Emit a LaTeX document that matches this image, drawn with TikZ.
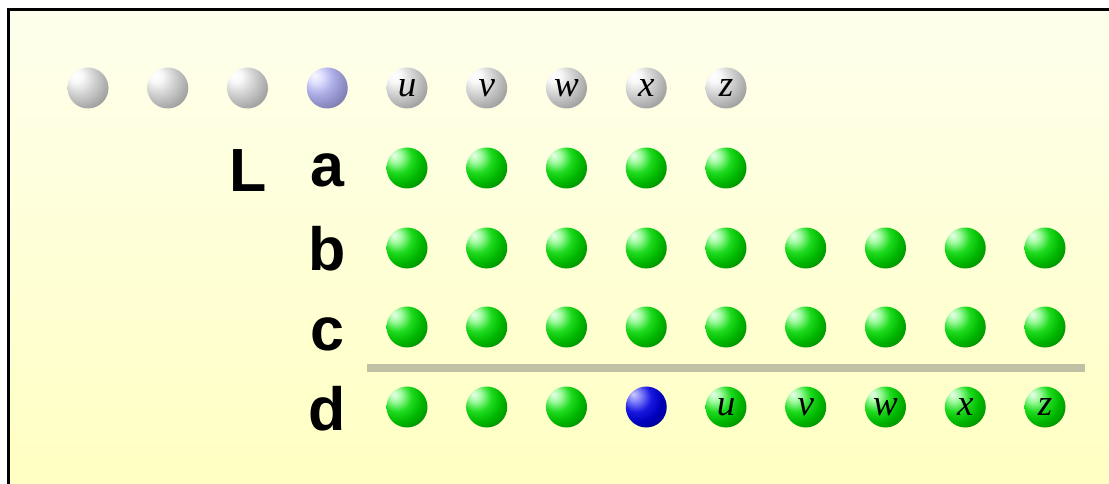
\documentclass[tikz,border=0pt]{standalone}
\usepackage{fontspec}
\setmainfont{Liberation Serif}
\newfontfamily\labelfont{Liberation Sans}
\definecolor{bgtop}{RGB}{254,255,236}
\definecolor{bgbot}{RGB}{255,255,194}
\definecolor{rule}{RGB}{192,192,164}
% glossy bead shadings, highlight towards the upper left
\pgfdeclareradialshading{greyball}{\pgfpoint{-16bp}{16bp}}{%
  rgb(0bp)=(1,1,1); rgb(8bp)=(0.97,0.97,0.97);
  rgb(18bp)=(0.84,0.84,0.84); rgb(28bp)=(0.72,0.72,0.72);
  rgb(38bp)=(0.6,0.6,0.6); rgb(50bp)=(0.48,0.48,0.48);
  rgb(76bp)=(0.38,0.38,0.38)}
\pgfdeclareradialshading{lavball}{\pgfpoint{-16bp}{16bp}}{%
  rgb(0bp)=(0.97,0.97,1); rgb(8bp)=(0.88,0.88,1);
  rgb(18bp)=(0.7,0.7,0.92); rgb(28bp)=(0.58,0.58,0.8);
  rgb(38bp)=(0.47,0.47,0.67); rgb(50bp)=(0.37,0.37,0.54);
  rgb(76bp)=(0.28,0.28,0.42)}
\pgfdeclareradialshading{greenball}{\pgfpoint{-16bp}{16bp}}{%
  rgb(0bp)=(0.92,1,0.92); rgb(8bp)=(0.62,0.98,0.62);
  rgb(18bp)=(0.12,0.86,0.12); rgb(28bp)=(0,0.72,0);
  rgb(38bp)=(0,0.56,0); rgb(50bp)=(0,0.42,0);
  rgb(76bp)=(0,0.3,0)}
\pgfdeclareradialshading{blueball}{\pgfpoint{-16bp}{16bp}}{%
  rgb(0bp)=(0.8,0.8,1); rgb(8bp)=(0.5,0.5,0.98);
  rgb(18bp)=(0.1,0.1,0.88); rgb(28bp)=(0,0,0.74);
  rgb(38bp)=(0,0,0.58); rgb(50bp)=(0,0,0.44);
  rgb(76bp)=(0,0,0.3)}
\begin{document}
\begin{tikzpicture}[x=1pt,y=-1pt,
  bead/.style={circle,shade,minimum size=41pt,inner sep=0pt,
    font=\fontsize{37}{37}\selectfont\itshape},
  greybead/.style={bead,shading=greyball},
  lavbead/.style={bead,shading=lavball},
  greenbead/.style={bead,shading=greenball},
  bluebead/.style={bead,shading=blueball},
  rowlabel/.style={anchor=base,inner sep=0pt,
    font=\labelfont\bfseries\fontsize{61}{61}\selectfont},
  divider/.style={line width=8pt,draw=rule}]

% canvas, background and frame
\useasboundingbox (0,0) rectangle (1109,484);
\fill[white] (0,0) rectangle (1109,484);
\shade[top color=bgtop,bottom color=bgbot] (8.5,9.5) rectangle (1109,484);
\draw[line width=3pt] (8.5,484) -- (8.5,9.5) -- (1109,9.5);

% top row: plain beads, then the lettered ones
\foreach \i in {0,1,2}
  \node[greybead] (t\i) at ({88+79.75*\i},88) {};
\node[lavbead] (t3) at ({88+79.75*3},88) {};
\foreach \l [count=\k from 4] in {u,v,w,x,z}
  \node[greybead] (t\k) at ({88+79.75*\k},88) {\l};

% row labels
\node[rowlabel] (L) at (248,191) {L};
\node[rowlabel] (la) at (327,186) {a};
\node[rowlabel] (lb) at (327,270) {b};
\node[rowlabel] (lc) at (327,350) {c};
\node[rowlabel] (ld) at (327,430) {d};

% row a
\foreach \k in {4,...,8}
  \node[greenbead] (a\k) at ({88+79.75*\k},168) {};
% rows b and c
\foreach \k in {4,...,12}
  \node[greenbead] (b\k) at ({88+79.75*\k},248) {};
\foreach \k in {4,...,12}
  \node[greenbead] (c\k) at ({88+79.75*\k},327) {};

% divider under row c
\coordinate (r0) at (367,368);
\coordinate (r1) at (1085,368);
\draw[divider] (r0) -- (r1);

% row d
\foreach \k in {4,5,6}
  \node[greenbead] (d\k) at ({88+79.75*\k},407) {};
\node[bluebead] (d7) at ({88+79.75*7},407) {};
\foreach \l [count=\k from 8] in {u,v,w,x,z}
  \node[greenbead] (d\k) at ({88+79.75*\k},407) {\l};
\end{tikzpicture}
\end{document}
